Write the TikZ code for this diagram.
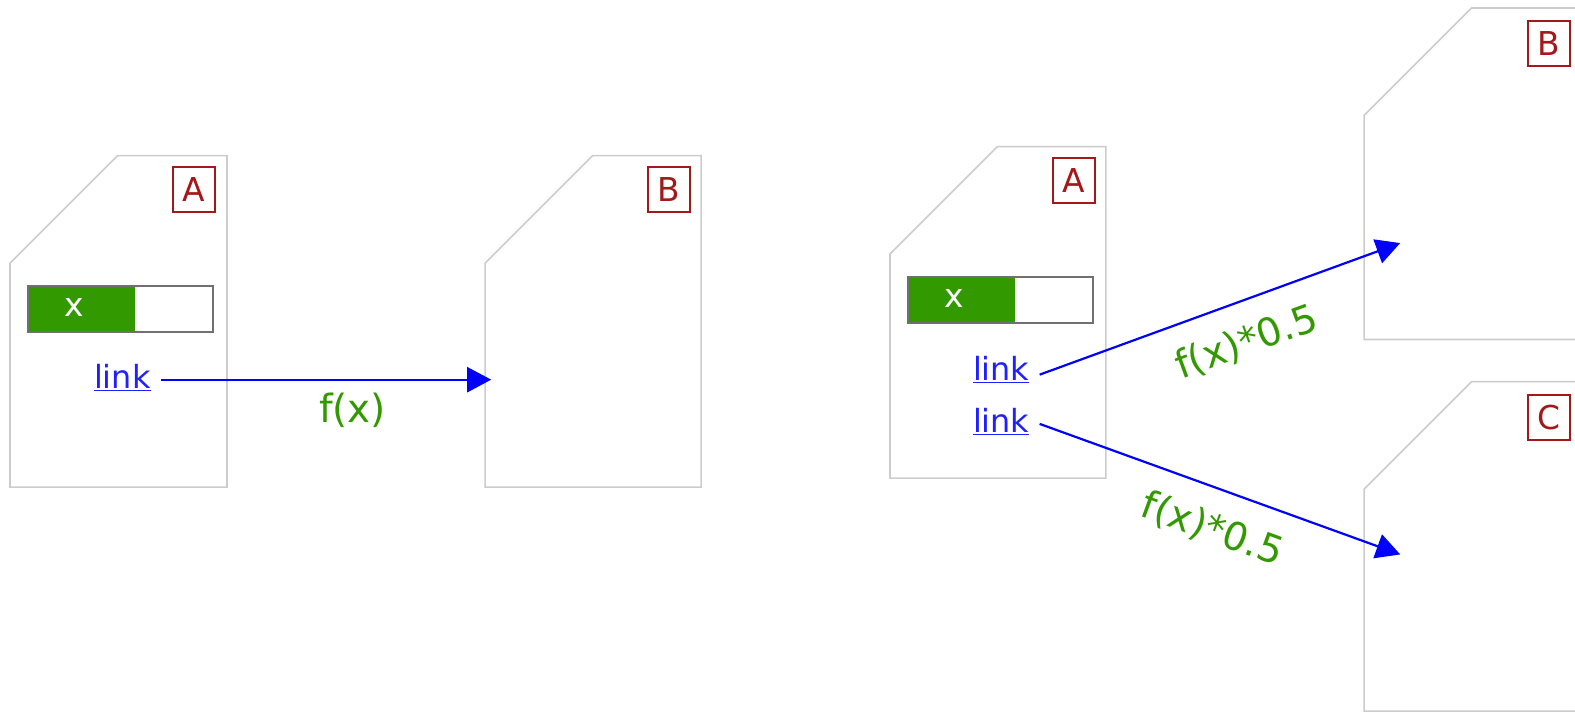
\documentclass[tikz,border=0pt]{standalone}
\usepackage{fontspec}
\setmainfont{DejaVu Sans}
\usetikzlibrary{arrows.meta}
\definecolor{pageline}{HTML}{CCCCCC}
\definecolor{lblred}{HTML}{A31818}
\definecolor{fgreen}{HTML}{339900}
\definecolor{linkblue}{HTML}{2020FF}
\definecolor{arrblue}{HTML}{0000FF}
\definecolor{barline}{HTML}{707070}
\begin{document}
\begin{tikzpicture}[x=1.00446bp,y=-1.00446bp,
  page/.style={draw=pageline,line width=1.6bp},
  tag/.style={draw=lblred,line width=2bp,text=lblred,font=\fontsize{33}{33}\selectfont,
    minimum width=42bp,minimum height=45bp,inner sep=0pt},
  linktext/.style={text=linkblue,font=\fontsize{32}{32}\selectfont,inner xsep=10bp,inner ysep=0pt,
    text height=23bp,text depth=5bp},
  flabel/.style={text=fgreen,font=\fontsize{39}{39}\selectfont,inner sep=0pt},
  conn/.style={draw=arrblue,line width=2.2bp,-{Triangle[length=24bp,width=25bp]}},
  barfill/.style={fill=fgreen},
  barbox/.style={draw=barline,line width=2bp},
  xtext/.style={text=white,font=\fontsize{33}{33}\selectfont,inner sep=0pt}]
\useasboundingbox (0,0) rectangle (1568,709.84);
% ---------- left diagram ----------
\draw[page] (10,262) -- (117,155) -- (226,155) -- (226,485) -- (10,485) -- cycle;
\node[tag] (tagA1) at (193,189) {A};
\fill[barfill] (28,285) rectangle (134,331);
\draw[barbox] (28,285) rectangle (212,331);
\node[xtext] (x1) at (74,306) {x};
\node[linktext,anchor=east] (l1) at (160,378) {\underline{link}};
\draw[page] (483,262) -- (590,155) -- (698,155) -- (698,485) -- (483,485) -- cycle;
\node[tag] (tagB1) at (666,189) {B};
\coordinate (b1in) at (489,378);
\draw[conn] (l1.east) -- (b1in);
\node[flabel] (f1) at (351,408) {f(x)};
% ---------- right diagram ----------
\draw[page] (886,253) -- (993,146) -- (1101,146) -- (1101,476) -- (886,476) -- cycle;
\node[tag] (tagA2) at (1069,180) {A};
\fill[barfill] (904,276) rectangle (1010,322);
\draw[barbox] (904,276) rectangle (1088,322);
\node[xtext] (x2) at (950,297) {x};
\node[linktext,anchor=east] (l2) at (1035,370) {\underline{link}};
\node[linktext,anchor=east] (l3) at (1035,422) {\underline{link}};
% page B (clipped at right edge)
\draw[page] (1570,338) -- (1358,338) -- (1358,115) -- (1465,8) -- (1570,8);
\node[tag] (tagB2) at (1542,43) {B};
% page C
\draw[page] (1570,708) -- (1358,708) -- (1358,487) -- (1465,380) -- (1570,380);
\node[tag] (tagC2) at (1542,416) {C};
\coordinate (b2in) at (1394,242);
\coordinate (c2in) at (1394,552);
\draw[conn] ([yshift=-3bp]l2.east) -- (b2in);
\draw[conn] (l3.east) -- (c2in);
\node[flabel,rotate=20.1] (f2) at (1241,341) {f(x)*0.5};
\node[flabel,rotate=-20.1] (f3) at (1207,527) {f(x)*0.5};
\end{tikzpicture}
\end{document}
